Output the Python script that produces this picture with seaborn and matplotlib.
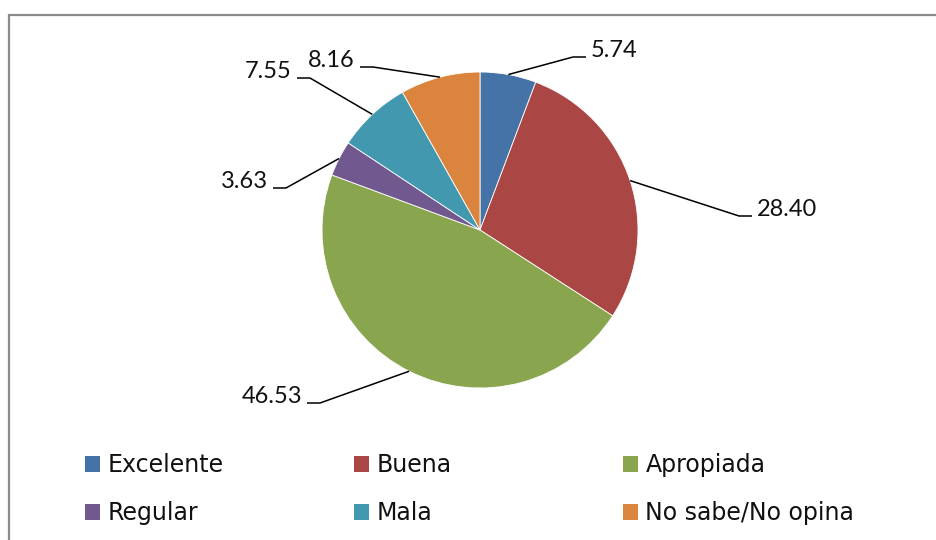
import numpy as np
import pandas as pd
import seaborn as sns
import matplotlib.pyplot as plt
from matplotlib.patches import Patch, Rectangle


# data
categories = ['Excelente', 'Buena', 'Apropiada', 'Regular', 'Mala', 'No sabe/No opina']
values = [5.74, 28.40, 46.53, 3.63, 7.55, 8.16]
colors = ['#4572A7', '#AA4643', '#89A54E', '#71588F', '#4198AF', '#DB843D']

# label layout (pixel coords of the text baseline, side of the leader)
label_pos = [(591, 57, 'r'), (757, 216, 'r'), (302, 403, 'l'),
             (268, 188, 'l'), (292, 78, 'l'), (355, 67, 'l')]

W, H = 936, 540
CX, CY, R = 480, 230, 158


def main():
    sns.set_theme(style='white')
    plt.rcParams['font.family'] = ['DejaVu Sans']

    df = pd.DataFrame({'cat': categories, 'val': values})

    fig = plt.figure(figsize=(W / 100, H / 100), dpi=100)
    ax = fig.add_axes([0, 0, 1, 1])

    wedges, _ = ax.pie(df['val'], colors=colors, startangle=90, counterclock=False,
                       center=(CX, H - CY), radius=R, frame=True,
                       wedgeprops=dict(edgecolor='white', linewidth=0.6))
    ax.set_xlim(0, W)
    ax.set_ylim(0, H)
    ax.set_aspect('equal')
    ax.axis('off')

    # data labels with leader lines
    for w, v, (tx, ty, side) in zip(wedges, df['val'], label_pos):
        mid = np.deg2rad((w.theta1 + w.theta2) / 2)
        ax_, ay_ = CX + R * np.cos(mid), H - CY + R * np.sin(mid)
        y = H - ty
        if side == 'r':
            xs = [ax_, tx - 18, tx - 5]
            ha = 'left'
        else:
            xs = [ax_, tx + 18, tx + 5]
            ha = 'right'
        ax.plot(xs, [ay_, y, y], color='black', lw=1.1, solid_capstyle='butt')
        ax.text(tx, y, f'{v:.2f}', ha=ha, va='baseline', fontsize=17,
                family=['Lato', 'DejaVu Sans'], color='#111111')

    # legend, three equal columns
    handles = [Patch(facecolor=c, edgecolor='none') for c in colors]
    cols = [(0, 3), (1, 4), (2, 5)]
    col_x = [85, 354, 623]
    for (i, j), x in zip(cols, col_x):
        lg = fig.legend([handles[i], handles[j]], [categories[i], categories[j]],
                        loc='center left', bbox_to_anchor=(x / W, 1 - 489 / H),
                        frameon=False, fontsize=17, handlelength=0.65, handleheight=0.65,
                        handletextpad=0.3, labelspacing=1.02, borderpad=0,
                        borderaxespad=0)
        for t in lg.get_texts():
            t.set_color('#111111')

    # chart frame
    fig.patches.append(Rectangle((9 / W, -0.1), 1.2, 1.1 - 15 / H, transform=fig.transFigure,
                                 fill=False, edgecolor='#8c8c8c', lw=1.6, clip_on=False))

    plt.savefig('out.png', dpi=100)


if __name__ == "__main__":
    main()
